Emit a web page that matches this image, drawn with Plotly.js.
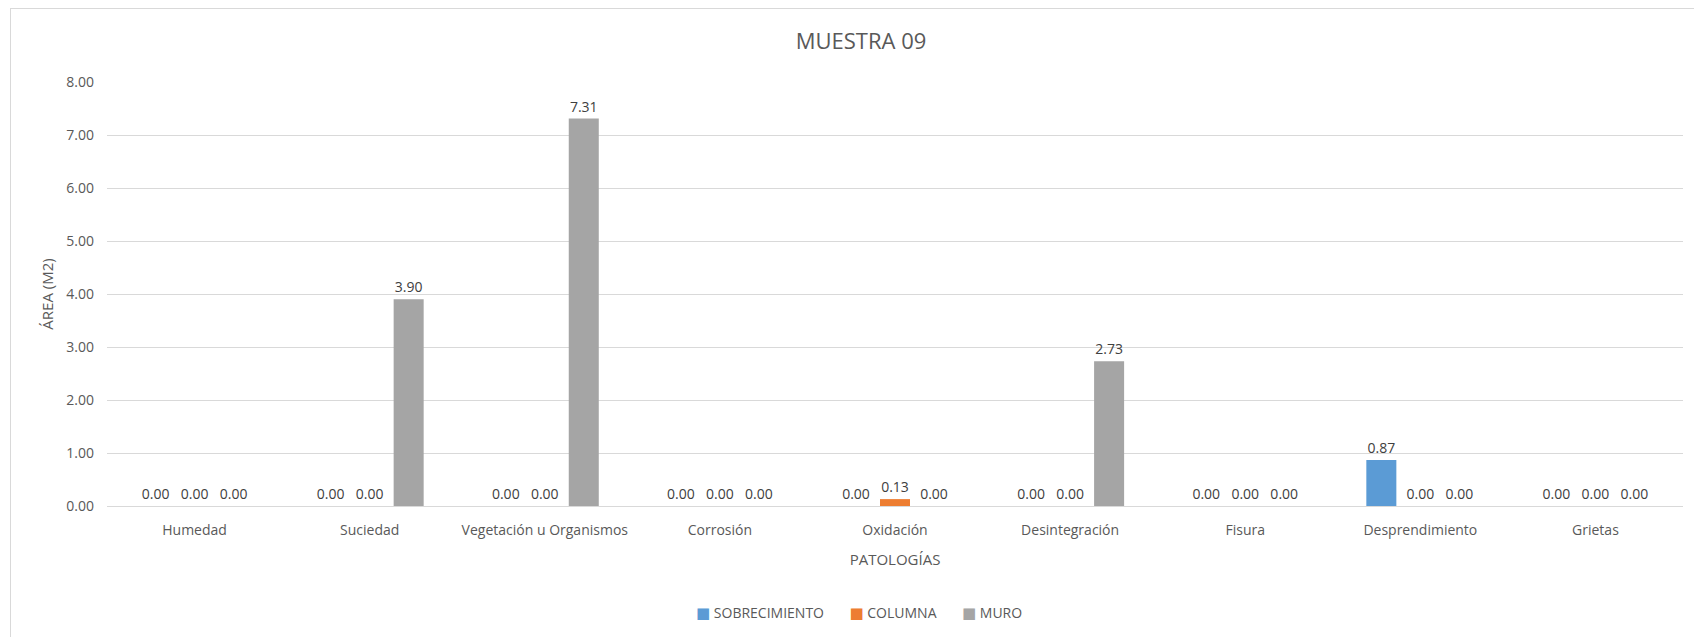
<!DOCTYPE html>
<html>
<head>
<meta charset="utf-8">
<script src="https://cdn.plot.ly/plotly-3.0.1.min.js"></script>
<style>
  html, body { margin: 0; padding: 0; background: #ffffff; overflow: hidden; }
  #chart { position: absolute; left: 0; top: 0; width: 1694px; height: 637px; }
  #frame { position: absolute; left: 10px; top: 8px; width: 1700px; height: 640px;
           border-left: 1px solid #d9d9d9; border-top: 1px solid #d9d9d9; pointer-events: none; }
</style>
</head>
<body>
<div id="chart"></div>
<div id="frame"></div>
<script>
const categories = ["Humedad", "Suciedad", "Vegetación u Organismos", "Corrosión", "Oxidación",
                    "Desintegración", "Fisura", "Desprendimiento", "Grietas"];
const sobrecimiento = [0, 0, 0, 0, 0, 0, 0, 0.87, 0];
const columna       = [0, 0, 0, 0, 0.13, 0, 0, 0, 0];
const muro          = [0, 3.90, 7.31, 0, 0, 2.73, 0, 0, 0];
const seriesNames = ["SOBRECIMIENTO", "COLUMNA", "MURO"];
const seriesColors = ["#5b9bd5", "#ed7d31", "#a5a5a5"];
const yTicks = [0, 1, 2, 3, 4, 5, 6, 7, 8];

const font = "'Open Sans', 'Noto Sans', sans-serif";
const textColor = "#595959";
const series = [sobrecimiento, columna, muro];
const traces = series.map((vals, i) => ({
  type: "bar",
  name: seriesNames[i],
  x: categories,
  y: vals,
  marker: { color: seriesColors[i] },
  text: vals.map(v => v.toFixed(2)),
  textposition: "outside",
  cliponaxis: false,
  textfont: { family: font, size: 14, color: "#404040" },
  hoverinfo: "x+y",
  showlegend: false
}));

// Legend drawn as one line of text with coloured squares (Excel style, compact)
const legendText = seriesNames.map((n, i) =>
  '<span style="color:' + seriesColors[i] + ';font-size:15px;font-family:DejaVu Sans">■</span>' + '&nbsp;' + n
).join('&nbsp;&nbsp;&nbsp;&nbsp;&nbsp;&nbsp;&nbsp;');

const layout = {
  width: 1694, height: 637,
  paper_bgcolor: "#ffffff", plot_bgcolor: "#ffffff",
  margin: { l: 107, r: 11, t: 82, b: 131 },
  barmode: "group",
  bargap: 0.332,
  bargroupgap: 0.23,
  title: {
    text: "MUESTRA 09",
    font: { family: font, size: 22, color: textColor },
    x: 861 / 1694, xanchor: "center", xref: "container",
    y: 1 - 41 / 637, yanchor: "middle", yref: "container"
  },
  xaxis: {
    type: "category",
    showgrid: false,
    showline: false,
    zeroline: false,
    ticks: "",
    ticklabelstandoff: 14,
    tickfont: { family: font, size: 14, color: textColor },
    title: { text: "PATOLOGÍAS", font: { family: font, size: 15, color: textColor }, standoff: 16 }
  },
  yaxis: {
    range: [0, 8],
    autorange: false,
    tickvals: yTicks,
    ticktext: yTicks.map(v => v.toFixed(2)),
    showgrid: true,
    gridcolor: "#d9d9d9",
    gridwidth: 1,
    zeroline: true,
    zerolinecolor: "#d9d9d9",
    zerolinewidth: 1,
    showline: false,
    ticks: "",
    ticklabelstandoff: 12,
    tickfont: { family: font, size: 14, color: textColor },
    title: { text: "ÁREA (M2)", font: { family: font, size: 15, color: textColor }, standoff: 9 }
  },
  showlegend: false,
  annotations: [{
    text: legendText,
    xref: "paper", yref: "paper",
    x: (859 - 107) / 1576, xanchor: "center",
    y: (506 - 612) / 424, yanchor: "middle",
    showarrow: false,
    font: { family: font, size: 14, color: textColor }
  }]
};

Plotly.newPlot("chart", traces, layout, { displayModeBar: false, staticPlot: true });
</script>
</body>
</html>
